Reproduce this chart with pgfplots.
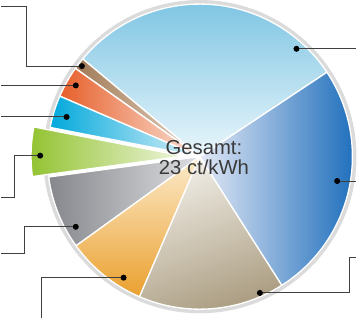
\documentclass[border=0pt]{standalone}
\usepackage{fontspec}
\setmainfont{Liberation Sans}
\usepackage{pgfplots}
\usepackage{pgfplotstable}
\pgfplotsset{compat=1.18}
\definecolor{lbA}{HTML}{7EC5E3}\definecolor{lbB}{HTML}{EAF6FB}
\definecolor{brA}{HTML}{A07A56}\definecolor{brB}{HTML}{E6D5C4}
\definecolor{orA}{HTML}{E65F2A}\definecolor{orB}{HTML}{FBE3D8}
\definecolor{cyA}{HTML}{00A8DB}\definecolor{cyB}{HTML}{DDF1F9}
\definecolor{grA}{HTML}{93C332}\definecolor{grB}{HTML}{EEF5DC}
\definecolor{gyA}{HTML}{86878C}\definecolor{gyB}{HTML}{DEDFE2}
\definecolor{yeA}{HTML}{FCEBCB}\definecolor{yeB}{HTML}{EAA02F}
\definecolor{tnA}{HTML}{F2EFE8}\definecolor{tnB}{HTML}{A99B7F}
\definecolor{dbA}{HTML}{E3E8F5}\definecolor{dbB}{HTML}{1F6FBC}
\definecolor{leader}{HTML}{404040}
\definecolor{txt}{HTML}{3A3A3A}
\pgfplotstableread{
value c1 c2 sang explode
29.6 lbA lbB 0 0
1.25 brA brB 90 0
3.33 orA orB 90 0
3.42 cyA cyB 90 0
5.2 grA grB 90 16
7.8 gyA gyB 90 0
8.6 yeA yeB 0 0
15.5 tnA tnB 20 0
25.3 dbA dbB 90 0
}\piedata
\pgfplotsset{leaderline/.style={color=leader, line width=1bp, mark=*, mark indices={1}, mark size=2.4bp, mark options={fill=black, draw=black, solid}}}
\begin{document}
\begin{tikzpicture}
\begin{axis}[width=357bp,height=317bp,scale only axis,
  xmin=0,xmax=357,ymin=0,ymax=317,hide axis,clip=false]
\pgfplotsextra{
  \draw[gray!28, line width=4bp] (axis cs:203,159) circle[radius=152bp];
  \xdef\cum{33.6}
  \foreach \i in {0,...,8}{
    \pgfplotstablegetelem{\i}{value}\of\piedata \let\v\pgfplotsretval
    \pgfplotstablegetelem{\i}{c1}\of\piedata \let\ca\pgfplotsretval
    \pgfplotstablegetelem{\i}{c2}\of\piedata \let\cb\pgfplotsretval
    \pgfplotstablegetelem{\i}{sang}\of\piedata \let\sa\pgfplotsretval
    \pgfplotstablegetelem{\i}{explode}\of\piedata \let\ex\pgfplotsretval
    \pgfmathsetmacro\a{\cum}
    \pgfmathsetmacro\b{\cum+\v*3.6}
    \pgfmathsetmacro\m{(\a+\b)/2}
    \pgfmathsetmacro\cx{203+\ex*cos(\m)}
    \pgfmathsetmacro\cy{159+\ex*sin(\m)}
    \shadedraw[top color=\ca, bottom color=\cb, shading angle=\sa, draw=white, line width=1.3bp, line join=round]
      (axis cs:\cx,\cy) -- ++(\a:150bp) arc[start angle=\a, end angle=\b, radius=150bp] -- cycle;
    \xdef\cum{\b}
  }
  \node[align=center, text=txt, font=\fontsize{20}{20}\selectfont] at (axis cs:207,158) {Gesamt:\\23 ct/kWh};
}
\addplot[leaderline] coordinates {(87,248) (33,248) (33,307) (7,307)};
\addplot[leaderline] coordinates {(81,229) (7,229)};
\addplot[leaderline] coordinates {(72,198) (7,198)};
\addplot[leaderline] coordinates {(46,160) (21,160) (21,119) (7,119)};
\addplot[leaderline] coordinates {(81,90) (31,90) (31,64) (7,64)};
\addplot[leaderline] coordinates {(128,40) (47,40) (47,0)};
\addplot[leaderline] coordinates {(298,265) (357,265)};
\addplot[leaderline] coordinates {(338,135) (357,135)};
\addplot[leaderline] coordinates {(262,25) (350,25) (350,60) (357,60)};
\end{axis}
\end{tikzpicture}
\end{document}
